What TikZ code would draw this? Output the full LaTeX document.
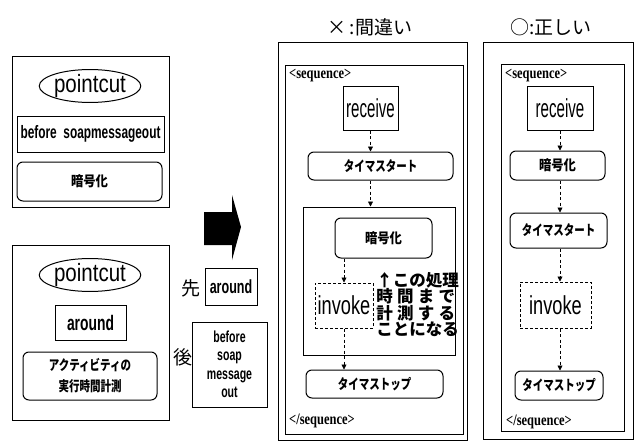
\documentclass[tikz,border=0pt]{standalone}
\usepackage{fontspec}
\setmainfont{Liberation Sans}
\newfontfamily\fpc[FakeStretch=0.82]{Liberation Sans}
\newfontfamily\frc[FakeStretch=0.58]{Liberation Sans}
\newfontfamily\finv[FakeStretch=0.7]{Liberation Sans}
\newfontfamily\fbd[FakeStretch=0.66]{Liberation Sans}
\newfontfamily\fser[FakeStretch=0.78]{Liberation Serif}
\newfontfamily\jp{Noto Sans CJK JP}
\newfontfamily\jpn[FakeStretch=0.75]{Noto Sans CJK JP}
\newfontfamily\jpm[FakeStretch=0.88]{Noto Sans CJK JP}
\usetikzlibrary{arrows.meta,shapes.geometric}
\newcommand\myfs[2]{\fontsize{#1}{#2}\selectfont}
\tikzset{
  bx/.style={draw, line width=1pt, inner sep=0pt, align=center},
  rbx/.style={bx, rounded corners=6pt},
  dbx/.style={bx, dash pattern=on 3pt off 2pt},
  ell/.style={draw, ellipse, line width=1pt, inner sep=0pt},
  frm/.style={draw, line width=1pt, inner sep=0pt},
  conn/.style={line width=0.8pt, dash pattern=on 3pt off 2.5pt, -{Triangle[length=5pt,width=5pt]}},
  lbl/.style={inner sep=0pt},
  jbold/.style={font=\jpm\bfseries\myfs{14}{16}},
  kbold/.style={font=\jpn\bfseries\myfs{14}{16}},
  pc/.style={font=\fpc\myfs{25}{26}},
  bd/.style={font=\fbd\bfseries\myfs{18}{20}},
  seq/.style={lbl, font=\fser\bfseries\myfs{16}{17}},
  ttl/.style={lbl, font=\jp\myfs{19}{20}},
}
\begin{document}
\begin{tikzpicture}[x=1pt,y=-1pt]
\useasboundingbox (0,0) rectangle (637,444);

% ---------- left top box
\node[frm, minimum width=157, minimum height=150] (lb1) at (90.5,132) {};
\node[ell, pc, minimum width=80, minimum height=25] (pc1) at (90,86) {pointcut};
\node[bx, bd, minimum width=147, minimum height=36] (bso) at (90.5,134) {before~~soapmessageout};
\node[rbx, jbold, minimum width=145, minimum height=39] (ang1) at (89.5,181.5) {暗号化};

% ---------- left bottom box
\node[frm, minimum width=157, minimum height=175] (lb2) at (90.5,332.5) {};
\node[ell, pc, minimum width=80, minimum height=27] (pc2) at (90,275) {pointcut};
\node[bx, font=\fbd\bfseries\myfs{21}{22}, minimum width=71, minimum height=35] (ar1) at (90.5,322.5) {around};
\node[rbx, font=\jpn\bfseries\myfs{14}{21}, minimum width=134, minimum height=48] (act) at (90,376) {アクティビティの\\実行時間計測};

% ---------- big arrow
\fill (204,212) -- (232,212) -- (232,195) -- (241,227) -- (232,260) -- (232,245) -- (204,245) -- cycle;

% ---------- order
\node[lbl, font=\jp\myfs{19}{20}] (saki) at (191,288) {先};
\node[bx, font=\fbd\bfseries\myfs{19}{20}, minimum width=52, minimum height=37] (ar2) at (231,286.5) {around};
\node[lbl, font=\jp\myfs{19}{20}] (ato) at (183,357) {後};
\node[bx, font=\fbd\bfseries\myfs{16}{18.5}, minimum width=75, minimum height=85] (bef) at (229.5,364.5) {before\\soap\\message\\out};

% ---------- middle panel (wrong)
\node[ttl] (t1) at (370,27) {×\,:間違い};
\node[frm, minimum width=189, minimum height=397] (om) at (372.5,241.5) {};
\node[frm, minimum width=178, minimum height=368] (sm) at (374,250) {};
\node[seq, anchor=west] (s1) at (289,76) {<sequence>};
\node[bx, font=\frc\myfs{26}{27}, minimum width=55, minimum height=44] (rc1) at (370.5,108) {receive};
\node[rbx, kbold, minimum width=145, minimum height=28] (ts1) at (380.5,166) {タイマスタート};
\node[frm, minimum width=152, minimum height=148] (grp) at (379,281) {};
\node[rbx, jbold, minimum width=97, minimum height=40] (ang2) at (383.5,238) {暗号化};
\node[dbx, font=\finv\myfs{26}{27}, minimum width=58, minimum height=45] (inv1) at (344,305.5) {invoke};
\node[lbl, font=\jp\bfseries\myfs{16.5}{16.2}, align=left] (note) at (417.5,304.5)
  {↑この処理\\\makebox[79pt][s]{時\hfill 間\hfill ま\hfill で}\\\makebox[79pt][s]{計\hfill 測\hfill す\hfill る}\\ことになる};
\node[rbx, kbold, minimum width=137, minimum height=28] (tp1) at (374.5,384) {タイマストップ};
\node[seq, anchor=west] (e1) at (289,421) {</sequence>};

\draw[conn] (rc1.south) -- (rc1.south |- ts1.north);
\draw[conn] (ts1.south -| rc1.south) -- (grp.north -| rc1.south);
\draw[conn] (ang2.south -| inv1.north) -- (inv1.north);
\draw[conn] (inv1.south) -- (inv1.south |- tp1.north);

% ---------- right panel (right)
\node[ttl] (t2) at (551,27) {○:正しい};
\node[frm, minimum width=150, minimum height=396] (or) at (558,241) {};
\node[frm, minimum width=123, minimum height=366] (sr) at (562.5,248) {};
\node[seq, anchor=west] (s2) at (505,76) {<sequence>};
\node[bx, font=\frc\myfs{26}{27}, minimum width=66, minimum height=44] (rc2) at (560,108) {receive};
\node[rbx, jbold, minimum width=95, minimum height=29] (ang3) at (557.5,165.5) {暗号化};
\node[rbx, kbold, minimum width=97, minimum height=35] (ts2) at (558.5,230.5) {タイマスタート};
\node[dbx, font=\finv\myfs{26}{27}, minimum width=71, minimum height=46] (inv2) at (555.5,305) {invoke};
\node[rbx, kbold, minimum width=88, minimum height=29] (tp2) at (559,385.5) {タイマストップ};
\node[seq, anchor=west] (e2) at (506,422) {</sequence>};

\draw[conn] (rc2.south) -- (rc2.south |- ang3.north);
\draw[conn] (ang3.south -| rc2.south) -- (ts2.north -| rc2.south);
\draw[conn] (ts2.south -| rc2.south) -- (inv2.north -| rc2.south);
\draw[conn] (inv2.south -| rc2.south) -- (tp2.north -| rc2.south);
\end{tikzpicture}
\end{document}
